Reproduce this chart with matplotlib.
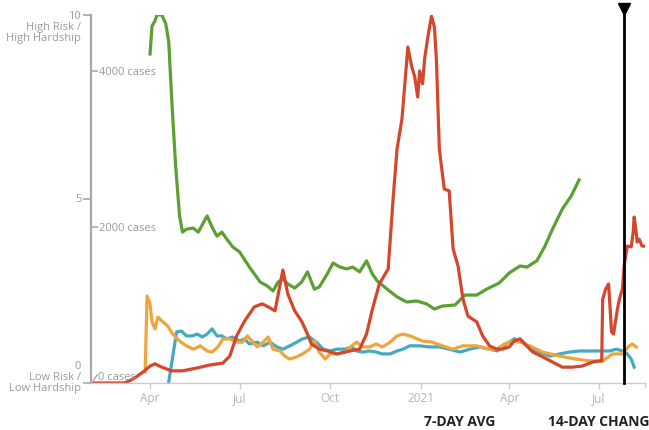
import numpy as np
import pandas as pd
import matplotlib
matplotlib.use('Agg')
import matplotlib.pyplot as plt
import matplotlib.dates as mdates
import matplotlib.transforms as mtransforms

plt.rcParams['font.family'] = ['Open Sans', 'DejaVu Sans']

# risk / hardship score (0 = low, 10 = high)
green_dates = ['2020-04-01', '2020-04-03', '2020-04-06', '2020-04-08', '2020-04-13', '2020-04-17',
               '2020-04-20', '2020-04-23', '2020-04-27', '2020-05-01', '2020-05-04', '2020-05-08',
               '2020-05-15', '2020-05-20', '2020-05-29', '2020-06-03', '2020-06-08', '2020-06-13',
               '2020-06-18', '2020-06-24', '2020-07-01', '2020-07-11', '2020-07-22', '2020-07-29',
               '2020-08-04', '2020-08-09', '2020-08-14', '2020-08-19', '2020-08-26', '2020-09-02',
               '2020-09-08', '2020-09-15', '2020-09-20', '2020-09-28', '2020-10-04', '2020-10-11',
               '2020-10-18', '2020-10-24', '2020-10-31', '2020-11-07', '2020-11-13', '2020-11-18',
               '2020-11-28', '2020-12-08', '2020-12-18', '2020-12-28', '2021-01-07', '2021-01-15',
               '2021-01-23', '2021-02-05', '2021-02-15', '2021-02-27', '2021-03-09', '2021-03-22',
               '2021-04-01', '2021-04-12', '2021-04-19', '2021-04-29', '2021-05-07', '2021-05-15',
               '2021-05-25', '2021-06-03', '2021-06-11']
green_vals = [8.94, 9.70, 9.84, 10.0, 10.0, 9.76,
              9.27, 7.72, 5.90, 4.54, 4.10, 4.18,
              4.21, 4.10, 4.54, 4.24, 3.99, 4.10,
              3.91, 3.70, 3.56, 3.15, 2.74, 2.64,
              2.50, 2.74, 2.83, 2.69, 2.58, 2.74,
              3.02, 2.55, 2.61, 2.96, 3.26, 3.15,
              3.10, 3.15, 3.02, 3.32, 2.96, 2.77,
              2.55, 2.34, 2.20, 2.23, 2.15, 2.01,
              2.09, 2.12, 2.39, 2.39, 2.55, 2.72,
              2.99, 3.18, 3.15, 3.32, 3.70, 4.18,
              4.73, 5.08, 5.52]

red_dates = ['2020-02-01', '2020-03-06', '2020-03-15', '2020-03-25', '2020-04-01', '2020-04-06',
             '2020-04-13', '2020-04-23', '2020-05-04', '2020-05-19', '2020-06-01', '2020-06-14',
             '2020-06-21', '2020-06-28', '2020-07-06', '2020-07-16', '2020-07-24', '2020-07-30',
             '2020-08-06', '2020-08-14', '2020-08-19', '2020-08-26', '2020-09-02', '2020-09-08',
             '2020-09-12', '2020-09-20', '2020-09-28', '2020-10-08', '2020-10-21', '2020-10-31',
             '2020-11-07', '2020-11-13', '2020-11-20', '2020-11-29', '2020-12-04', '2020-12-08',
             '2020-12-13', '2020-12-19', '2020-12-23', '2020-12-26', '2020-12-29', '2020-12-31',
             '2021-01-03', '2021-01-05', '2021-01-08', '2021-01-12', '2021-01-15', '2021-01-17',
             '2021-01-20', '2021-01-25', '2021-01-30', '2021-02-03', '2021-02-08', '2021-02-13',
             '2021-02-18', '2021-02-27', '2021-03-05', '2021-03-12', '2021-03-19', '2021-03-25',
             '2021-04-01', '2021-04-06', '2021-04-12', '2021-04-17', '2021-04-25', '2021-05-05',
             '2021-05-15', '2021-05-25', '2021-06-04', '2021-06-14', '2021-06-25', '2021-07-02',
             '2021-07-04', '2021-07-05', '2021-07-08', '2021-07-11', '2021-07-14', '2021-07-16',
             '2021-07-20', '2021-07-22', '2021-07-25', '2021-07-27', '2021-07-30', '2021-08-03',
             '2021-08-05', '2021-08-06', '2021-08-08', '2021-08-09', '2021-08-11', '2021-08-14',
             '2021-08-16']
red_vals = [0.0, 0.0, 0.11, 0.30, 0.46, 0.52,
            0.43, 0.33, 0.33, 0.41, 0.49, 0.54,
            0.73, 1.28, 1.68, 2.07, 2.15, 2.07,
            1.96, 3.07, 2.42, 1.96, 1.68, 1.33,
            1.06, 0.92, 0.87, 0.79, 0.87, 0.92,
            1.33, 2.01, 2.69, 3.10, 5.0, 6.36,
            7.17, 9.13, 8.59, 8.32, 7.77, 8.48,
            8.13, 8.80, 9.35, 9.97, 9.67, 8.80,
            6.36, 5.27, 5.22, 3.64, 3.18, 2.28,
            1.82, 1.66, 1.28, 1.01, 0.92, 0.92,
            0.98, 1.14, 1.20, 1.06, 0.84, 0.71,
            0.57, 0.43, 0.43, 0.46, 0.57, 0.60,
            0.60, 2.28, 2.55, 2.69, 1.39, 1.33,
            2.01, 2.28, 2.55, 3.23, 3.72, 3.70,
            4.10, 4.51, 4.10, 3.83, 3.91, 3.72,
            3.72]

orange_dates = ['2020-03-27', '2020-03-29', '2020-04-01', '2020-04-03', '2020-04-06', '2020-04-09',
                '2020-04-14', '2020-04-19', '2020-04-24', '2020-05-01', '2020-05-08', '2020-05-15',
                '2020-05-22', '2020-05-29', '2020-06-03', '2020-06-09', '2020-06-14', '2020-06-21',
                '2020-06-28', '2020-07-04', '2020-07-09', '2020-07-19', '2020-07-25', '2020-07-30',
                '2020-08-04', '2020-08-11', '2020-08-16', '2020-08-21', '2020-08-28', '2020-09-03',
                '2020-09-10', '2020-09-15', '2020-09-20', '2020-09-26', '2020-10-01', '2020-10-08',
                '2020-10-16', '2020-10-23', '2020-10-28', '2020-11-03', '2020-11-10', '2020-11-17',
                '2020-11-23', '2020-12-01', '2020-12-08', '2020-12-14', '2020-12-21', '2021-01-03',
                '2021-01-13', '2021-01-23', '2021-02-03', '2021-02-13', '2021-02-27', '2021-03-12',
                '2021-03-19', '2021-03-27', '2021-04-04', '2021-04-12', '2021-04-22', '2021-05-05',
                '2021-05-22', '2021-06-08', '2021-06-22', '2021-07-05', '2021-07-15', '2021-07-25',
                '2021-08-01', '2021-08-04', '2021-08-08']
orange_vals = [0.30, 2.36, 2.15, 1.66, 1.47, 1.79,
               1.66, 1.55, 1.33, 1.14, 1.01, 0.92,
               1.01, 0.87, 0.84, 0.98, 1.20, 1.20,
               1.11, 1.11, 1.28, 0.98, 1.11, 1.25,
               0.92, 0.87, 0.73, 0.65, 0.71, 0.79,
               0.92, 1.14, 0.84, 0.65, 0.79, 0.79,
               0.84, 1.01, 1.11, 0.98, 0.98, 1.06,
               0.98, 1.11, 1.28, 1.33, 1.28, 1.14,
               1.11, 1.01, 0.92, 1.01, 1.01, 0.92,
               0.92, 1.06, 1.14, 1.11, 1.01, 0.84,
               0.73, 0.65, 0.60, 0.60, 0.79, 0.79,
               1.01, 1.06, 0.98]

teal_dates = ['2020-04-20', '2020-04-28', '2020-05-03', '2020-05-08', '2020-05-14', '2020-05-19',
              '2020-05-24', '2020-05-29', '2020-06-03', '2020-06-08', '2020-06-13', '2020-06-18',
              '2020-06-24', '2020-07-01', '2020-07-06', '2020-07-11', '2020-07-19', '2020-07-25',
              '2020-08-01', '2020-08-08', '2020-08-14', '2020-08-21', '2020-08-28', '2020-09-03',
              '2020-09-10', '2020-09-17', '2020-09-24', '2020-10-01', '2020-10-08', '2020-10-16',
              '2020-10-23', '2020-10-28', '2020-11-03', '2020-11-10', '2020-11-17', '2020-11-23',
              '2020-12-01', '2020-12-08', '2020-12-14', '2020-12-21', '2020-12-31', '2021-01-10',
              '2021-01-20', '2021-01-30', '2021-02-10', '2021-02-20', '2021-03-02', '2021-03-12',
              '2021-03-20', '2021-03-29', '2021-04-06', '2021-04-15', '2021-04-22', '2021-05-02',
              '2021-05-12', '2021-05-22', '2021-06-01', '2021-06-11', '2021-06-22', '2021-07-02',
              '2021-07-12', '2021-07-19', '2021-07-25', '2021-07-30', '2021-08-03', '2021-08-06']
teal_vals = [0.03, 1.39, 1.41, 1.28, 1.28, 1.33,
             1.25, 1.33, 1.47, 1.28, 1.28, 1.20,
             1.25, 1.14, 1.20, 1.06, 1.11, 1.01,
             1.11, 0.98, 0.92, 1.01, 1.11, 1.20,
             1.25, 1.11, 0.92, 0.87, 0.92, 0.92,
             0.98, 0.87, 0.84, 0.87, 0.84, 0.79,
             0.79, 0.87, 0.92, 1.01, 1.01, 0.98,
             0.98, 0.92, 0.84, 0.92, 0.98, 0.92,
             0.87, 1.06, 1.20, 1.11, 0.92, 0.84,
             0.73, 0.79, 0.84, 0.87, 0.87, 0.87,
             0.87, 0.92, 0.87, 0.79, 0.65, 0.43]

x_ticks = ['2020-04-01', '2020-07-01', '2020-10-01', '2021-01-01', '2021-04-01', '2021-07-01']
x_labels = ['Apr', 'Jul', 'Oct', '2021', 'Apr', 'Jul']
case_ticks = [0, 2000, 4000]
cases_per_unit = 472  # 2000 cases sits at ~4.24 on the score axis
marker_date = '2021-07-27'
x_start, x_end = '2020-02-01', '2021-08-17'

GREEN = '#5c9f33'
RED = '#d4472c'
ORANGE = '#f0a43c'
TEAL = '#47a9c1'
GREY = '#a8a8a8'
TXT = '#9a9a9a'

fig = plt.figure(figsize=(6.49, 4.31), dpi=100)
ax = fig.add_axes([91 / 649, 1 - 384 / 431, 554 / 649, 368 / 431])

lw = 2.3
ax.plot(pd.to_datetime(green_dates), green_vals, color=GREEN, lw=lw, solid_joinstyle='round')
ax.plot(pd.to_datetime(teal_dates), teal_vals, color=TEAL, lw=lw, solid_joinstyle='round')
ax.plot(pd.to_datetime(orange_dates), orange_vals, color=ORANGE, lw=lw, solid_joinstyle='round')
ax.plot(pd.to_datetime(red_dates), red_vals, color=RED, lw=lw, solid_joinstyle='round')

ax.set_xlim(pd.Timestamp(x_start), pd.Timestamp(x_end))
ax.set_ylim(0, 10)

for s in ['top', 'right']:
    ax.spines[s].set_visible(False)
ax.spines['left'].set_color(GREY)
ax.spines['left'].set_linewidth(1.6)
ax.spines['bottom'].set_color('#cccccc')
ax.spines['bottom'].set_linewidth(1.0)

ax.set_xticks(pd.to_datetime(x_ticks))
ax.set_xticklabels(x_labels)
ax.tick_params(axis='x', colors='#cccccc', labelcolor='#b4b4b4', labelsize=8.5, length=4, width=1, pad=1.5)

# left axis: score ticks with multi-line labels drawn by hand
ax.set_yticks([0, 5, 10])
ax.set_yticklabels([])
ax.tick_params(axis='y', colors=GREY, length=6, width=1.2)
ax.annotate('10\nHigh Risk /\nHigh Hardship', xy=(0, 10), xycoords=('axes fraction', 'data'),
            xytext=(-7, 3.5), textcoords='offset points', ha='right', va='top',
            fontsize=8, color=TXT, linespacing=1.0, annotation_clip=False)
ax.annotate('5', xy=(0, 5), xycoords=('axes fraction', 'data'),
            xytext=(-7, 0), textcoords='offset points', ha='right', va='center',
            fontsize=8, color=TXT, annotation_clip=False)
ax.annotate('0\nLow Risk /\nLow Hardship', xy=(0, 0), xycoords=('axes fraction', 'data'),
            xytext=(-7, -7), textcoords='offset points', ha='right', va='bottom',
            fontsize=8, color=TXT, linespacing=1.0, annotation_clip=False)

# inner case-count scale
tr = mtransforms.blended_transform_factory(ax.transAxes, ax.transData)
for c in case_ticks:
    y = c / cases_per_unit
    if c == 0:
        ax.plot([0.003, 0.011], [0.03, 0.22], color=GREY, lw=1, transform=tr, clip_on=False)
        ax.text(0.013, 0.17, '0 cases', transform=tr, fontsize=8, color=TXT, va='center')
    else:
        ax.plot([0, 0.011], [y, y], color=GREY, lw=1.2, transform=tr, clip_on=False)
        ax.text(0.015, y, '%d cases' % c, transform=tr, fontsize=8, color=TXT, va='center')

# right-end tick of the date axis
ax.plot([1, 1], [0, -0.012], color='#cccccc', lw=1, transform=ax.transAxes, clip_on=False)

# current-date marker
md = pd.Timestamp(marker_date)
ax.plot([md, md], [0, 10.17], color='black', lw=2, clip_on=False, zorder=5)
ax.plot([md], [10.17], marker='v', color='black', markersize=9, clip_on=False, zorder=6)

fig.text(460 / 649, 1 - 422 / 431, '7-DAY AVG', ha='center', va='center',
         fontsize=10, fontweight='bold', color='#222222')
fig.text(548 / 649, 1 - 422 / 431, '14-DAY CHANGE', ha='left', va='center',
         fontsize=10, fontweight='bold', color='#222222')

fig.savefig('out.png', dpi=100)
